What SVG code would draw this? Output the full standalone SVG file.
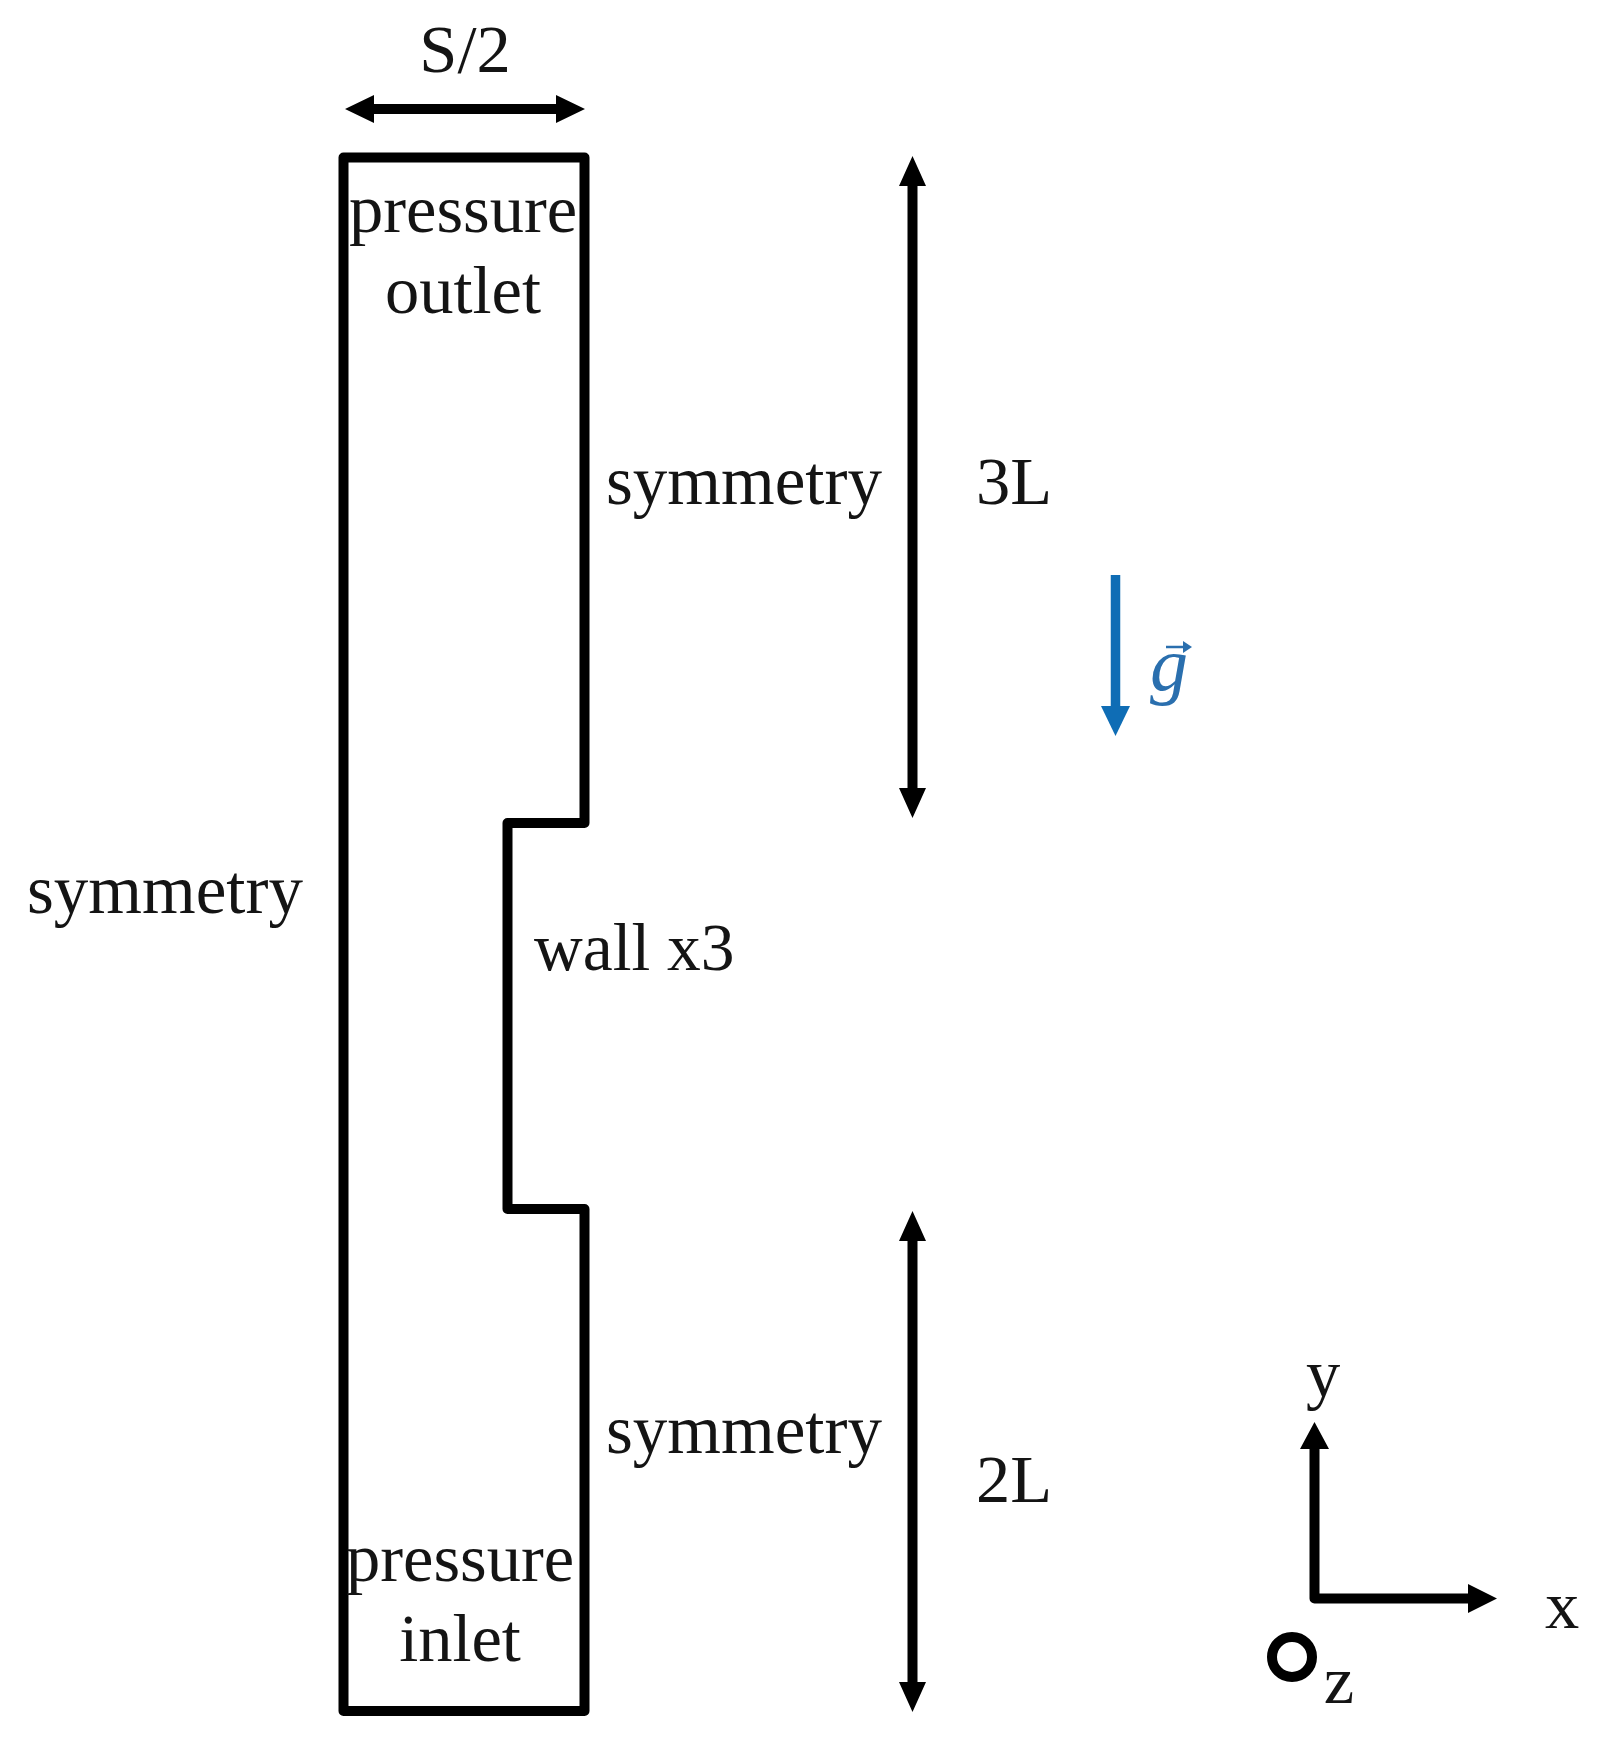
<svg xmlns="http://www.w3.org/2000/svg" width="1602" height="1746" viewBox="0 0 1602 1746">
<style>
text{font-family:"Liberation Serif","Times New Roman",serif;font-size:68.500px;fill:#141414}
.m{text-anchor:middle}
.k{fill:none;stroke:#000;stroke-width:10}
.h{fill:#000}
.b{fill:none;stroke:#0f6db5;stroke-width:9.500}
</style>
<rect width="1602" height="1746" fill="#fff"/>
<g id="domain">
<path class="k" stroke-linejoin="round" d="M343.500 157.500H584.500V823H507.500V1209H584.500V1711H343.500Z"/>
</g>
<g id="connectors">
<g id="dim-s2"><path class="k" d="M365 109H565"/><path class="h" d="M345 109L374 95V123ZM585 109L556 95V123Z"/></g>
<g id="dim-3L"><path class="k" d="M912.500 180V796"/><path class="h" d="M912.500 156L926 186H899ZM912.500 818L926 788H899Z"/></g>
<g id="dim-2L"><path class="k" d="M912.500 1235V1690"/><path class="h" d="M912.500 1211L926 1241H899ZM912.500 1712L926 1682H899Z"/></g>
<g id="gravity"><path class="b" d="M1115.500 575V710"/><path d="M1115.500 736L1101 706H1130Z" fill="#0f6db5"/></g>
<g id="axis-y"><path class="k" stroke-linejoin="round" d="M1314.500 1445V1598.500H1475"/><path class="h" d="M1314.500 1422L1329 1449H1300ZM1497 1598.500L1468 1584V1613Z"/></g>
</g>
<g id="label-s2"><text class="m" x="465" y="72">S/2</text></g>
<g id="label-outlet"><text x="349" y="232">pressure</text><text class="m" x="463" y="313">outlet</text></g>
<g id="label-sym-top"><text x="606" y="504" style="font-size:69px">symmetry</text></g>
<g id="label-3L"><text x="976" y="504">3L</text></g>
<g id="label-sym-left"><text x="27" y="913" style="font-size:69px">symmetry</text></g>
<g id="label-wall"><text x="534" y="970" style="font-size:67.500px">wall x3</text></g>
<g id="label-sym-bottom"><text x="606" y="1453" style="font-size:69px">symmetry</text></g>
<g id="label-2L"><text x="976" y="1502">2L</text></g>
<g id="label-inlet"><text x="346" y="1581">pressure</text><text class="m" x="460" y="1661">inlet</text></g>
<g id="label-g">
<text x="1150" y="690" style="font-style:italic;font-size:76px;fill:#2a6fae">g</text>
<path d="M1166 647H1186" fill="none" stroke="#2a6fae" stroke-width="2.500"/><path d="M1192 647L1183 641V653Z" fill="#2a6fae"/>
</g>
<g id="label-y"><text class="m" x="1323" y="1397">y</text></g>
<g id="label-x"><text class="m" x="1562" y="1628">x</text></g>
<g id="axis-z"><circle cx="1292" cy="1657" r="20" class="k"/><text class="m" x="1339" y="1703">z</text></g>
</svg>
